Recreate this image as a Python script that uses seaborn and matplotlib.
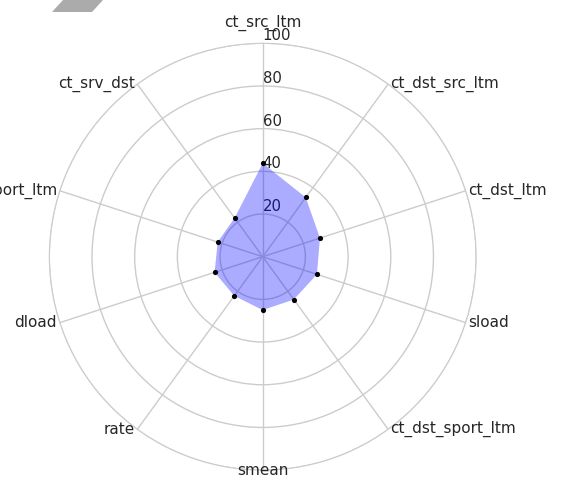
import numpy as np
import pandas as pd
import matplotlib
matplotlib.use("Agg")
import matplotlib.pyplot as plt
from matplotlib.patches import Polygon
import seaborn as sns

# Feature names, clockwise from the top of the radar
features = ["ct_src_ltm", "ct_dst_src_ltm", "ct_dst_ltm", "sload",
            "ct_dst_sport_ltm", "smean", "rate", "dload",
            "ct_src_dport_ltm", "ct_srv_dst"]
importance = [43.8, 34.3, 28.2, 26.7, 24.8, 25.0, 22.7, 23.7, 22.2, 22.4]
radial_ticks = [20, 40, 60, 80, 100]
radial_labels = ["20", "40", "60", "80", "100"]

sns.set_style("whitegrid")
plt.rcParams["font.family"] = ["DejaVu Sans"]

fig = plt.figure(figsize=(5.63, 4.8), dpi=100)
ax = fig.add_axes([0.0876, 0.0206, 0.7581, 0.8892], projection="polar")
ax.set_theta_offset(np.pi / 2)
ax.set_theta_direction(-1)

angles = np.linspace(0, 2 * np.pi, len(features), endpoint=False)
df = pd.DataFrame({"feature": features, "angle": angles, "value": importance})

# Filled area plus a marker at each feature
closed_angles = np.append(angles, angles[0])
closed_values = np.append(importance, importance[0])
ax.fill(closed_angles, closed_values, color="blue", alpha=0.33,
        linewidth=0, zorder=2)
sns.scatterplot(data=df, x="angle", y="value", color="black", s=14,
                linewidth=0, ax=ax, zorder=3, legend=False)

ax.set_ylim(0, 100)
ax.set_yticks(radial_ticks)
ax.set_yticklabels(radial_labels, fontsize=10.7, color=".15")
ax.set_rlabel_position(0)
ax.set_xticks(angles)
ax.set_xticklabels([])
ax.set_xlabel("")
ax.set_ylabel("")
ax.grid(color=".8", linewidth=1.0)
ax.spines["polar"].set_color(".8")

# Feature names at the end of each spoke
for ang, name in zip(angles, features):
    deg = np.degrees(ang)
    if np.isclose(deg, 0):
        ha, off = "center", (0, 15)
    elif np.isclose(deg, 180):
        ha, off = "center", (0, 0)
    elif deg < 180:
        ha, off = "left", (1.5, 0)
    else:
        ha, off = "right", (-2, 0)
    ax.annotate(name, xy=(ang, 100), xytext=off, textcoords="offset points",
                ha=ha, va="center", fontsize=11, color=".15",
                annotation_clip=False)

# Grey band in the upper-left corner
corner = [(63, 0), (103, 0), (92, 12), (52, 12)]
fig.add_artist(Polygon([(x / 563, 1 - y / 480) for x, y in corner],
                       closed=True, transform=fig.transFigure,
                       facecolor="#ababab", edgecolor="none"))

fig.savefig("out.png", dpi=100)
